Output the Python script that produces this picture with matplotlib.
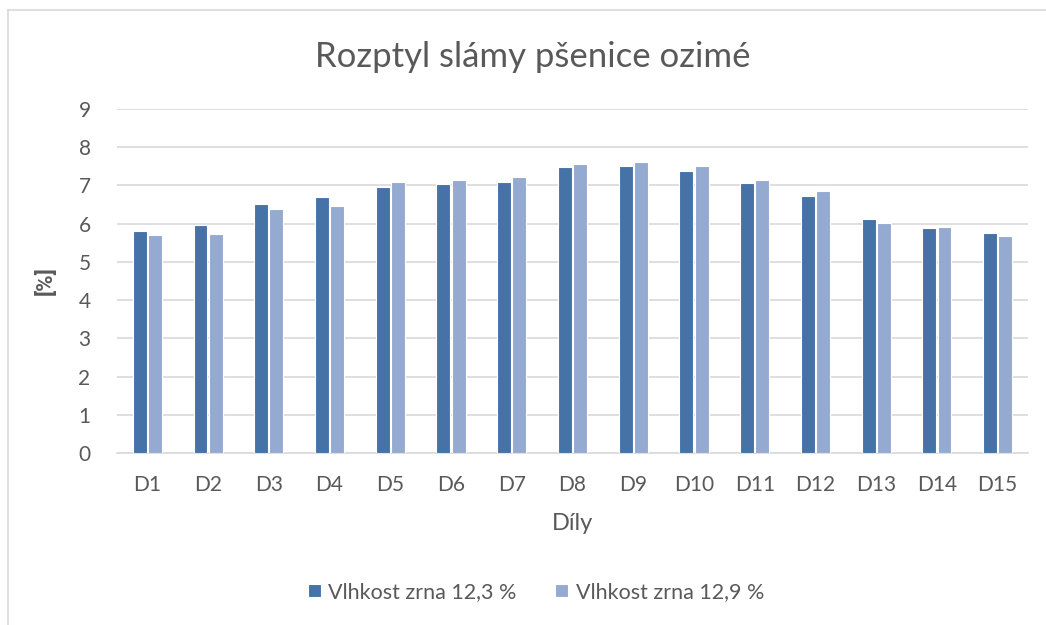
import numpy as np
import matplotlib
matplotlib.use('Agg')
import matplotlib.pyplot as plt
from matplotlib.lines import Line2D

categories = ['D1', 'D2', 'D3', 'D4', 'D5', 'D6', 'D7', 'D8', 'D9', 'D10',
              'D11', 'D12', 'D13', 'D14', 'D15']
moist_123 = [5.82, 5.97, 6.52, 6.71, 6.96, 7.03, 7.10, 7.47, 7.52, 7.39,
             7.06, 6.73, 6.13, 5.88, 5.76]
moist_129 = [5.71, 5.73, 6.38, 6.46, 7.08, 7.14, 7.21, 7.57, 7.62, 7.50,
             7.13, 6.85, 6.01, 5.91, 5.68]
series_names = ['Vlhkost zrna 12,3 %', 'Vlhkost zrna 12,9 %']

plt.rcParams['font.family'] = ['Lato', 'DejaVu Sans']
txt = '#595959'

fig = plt.figure(figsize=(10.46, 6.25), dpi=100)
ax = fig.add_axes([117 / 1046, 1 - 453 / 625, (1028 - 117) / 1046, (453 - 109) / 625])

x = np.arange(len(categories))
w = 0.23
ax.bar(x - 0.125, moist_123, w, color='#4672A7', edgecolor='white', linewidth=0.8,
       label=series_names[0], zorder=3)
ax.bar(x + 0.125, moist_129, w, color='#95AAD1', edgecolor='white', linewidth=0.8,
       label=series_names[1], zorder=3)

ax.set_xlim(-0.5, len(categories) - 0.5)
ax.set_ylim(0, 9)
ax.set_yticks(range(10))
ax.set_xticks(x)
ax.set_xticklabels(categories)
ax.grid(axis='y', color='#D9D9D9', linewidth=1.2, zorder=0)
for s in ['top', 'right', 'left']:
    ax.spines[s].set_visible(False)
ax.spines['bottom'].set_color('#D9D9D9')
ax.spines['bottom'].set_linewidth(1.2)
ax.tick_params(axis='both', length=0, labelsize=15, colors=txt)
ax.tick_params(axis='x', pad=16)
ax.tick_params(axis='y', pad=19)

ax.set_ylabel('[%]', fontsize=16, fontweight='bold', color=txt, labelpad=16,
              family=['Roboto', 'DejaVu Sans'])
ax.set_xlabel('Díly', fontsize=17, color=txt, labelpad=13)
fig.text(533 / 1046, 1 - 57 / 625, 'Rozptyl slámy pšenice ozimé', fontsize=25,
         color=txt, ha='center', va='center')

fig.legend(loc='center', bbox_to_anchor=(536 / 1046, 1 - 592 / 625), ncol=2,
           frameon=False, fontsize=15.5, labelcolor=txt, handlelength=0.6,
           handleheight=0.6, handletextpad=0.35, columnspacing=1.8)

# chart frame (only left and top edges are inside the crop)
fig.add_artist(Line2D([8 / 1046, 8 / 1046], [0, 1 - 10 / 625], color='#D9D9D9',
                      linewidth=1.2, transform=fig.transFigure))
fig.add_artist(Line2D([8 / 1046, 1], [1 - 10 / 625, 1 - 10 / 625], color='#D9D9D9',
                      linewidth=1.2, transform=fig.transFigure))

fig.savefig('out.png', dpi=100)
